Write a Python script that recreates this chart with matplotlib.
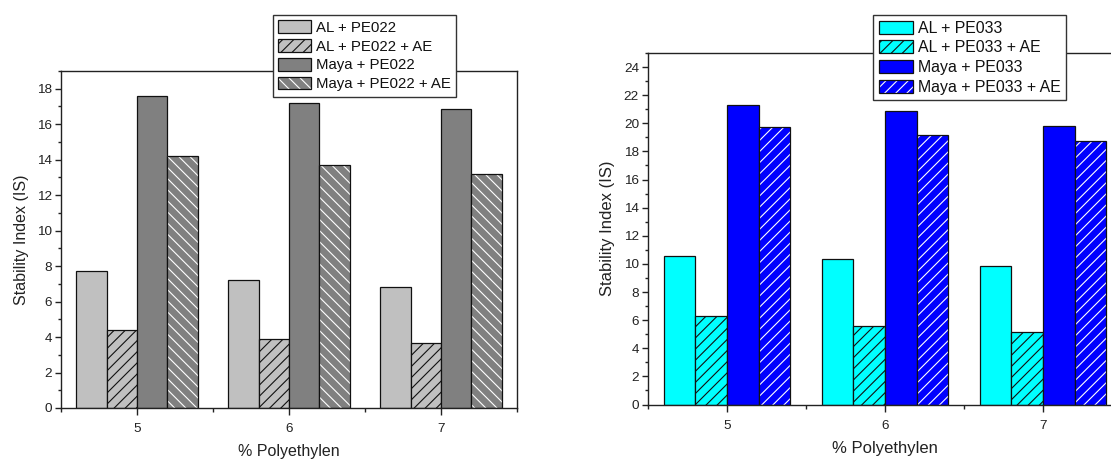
import numpy as np
import matplotlib
matplotlib.use("Agg")
import matplotlib.pyplot as plt
from matplotlib.patches import Patch
from matplotlib.ticker import MultipleLocator, FixedLocator
from matplotlib.legend_handler import HandlerTuple

plt.rcParams['font.family'] = ['Liberation Sans', 'DejaVu Sans']
plt.rcParams['hatch.linewidth'] = 0.8

# data
polyethylen = [5, 6, 7]

# left panel, PE022
al_pe022 = [7.72, 7.20, 6.82]
al_pe022_ae = [4.37, 3.87, 3.68]
maya_pe022 = [17.60, 17.18, 16.83]
maya_pe022_ae = [14.20, 13.68, 13.19]
labels_022 = ['AL + PE022', 'AL + PE022 + AE', 'Maya + PE022', 'Maya + PE022 + AE']

# right panel, PE033
al_pe033 = [10.58, 10.37, 9.84]
al_pe033_ae = [6.28, 5.59, 5.19]
maya_pe033 = [21.30, 20.90, 19.80]
maya_pe033_ae = [19.75, 19.18, 18.76]
labels_033 = ['AL + PE033', 'AL + PE033 + AE', 'Maya + PE033', 'Maya + PE033 + AE']

W, H = 1111, 459
fig = plt.figure(figsize=(W / 100, H / 100), dpi=100)

def px_axes(x0, x1, ytop, ybot):
    return fig.add_axes([x0 / W, 1 - ybot / H, (x1 - x0) / W, (ybot - ytop) / H])

ax1 = px_axes(61, 517, 71, 408)
ax2 = px_axes(648, 1122, 53, 404.5)

bw = 0.2
edge = '#111111'


def draw_panel(ax, series, styles, labels, ymax, lab_fs, tick_fs, xpad):
    x = np.array(polyethylen, dtype=float)
    handles = []
    for i, (vals, (fc, hatch, hcol)) in enumerate(zip(series, styles)):
        pos = x + (i - 1.5) * bw
        if hatch and hcol == 'white':
            ax.bar(pos, vals, bw, color=fc, edgecolor='white', hatch=hatch, linewidth=0)
            ax.bar(pos, vals, bw, fill=False, edgecolor=edge, linewidth=0.9)
            h = (Patch(facecolor=fc, edgecolor='white', hatch=hatch, linewidth=0),
                 Patch(fill=False, edgecolor=edge, linewidth=0.9))
        else:
            ax.bar(pos, vals, bw, color=fc, edgecolor=edge, hatch=hatch, linewidth=0.9)
            h = Patch(facecolor=fc, edgecolor=edge, hatch=hatch, linewidth=0.9)
        handles.append(h)

    ax.set_xlim(4.5, 7.5)
    ax.set_ylim(0, ymax)
    ax.set_xticks(polyethylen)
    ax.xaxis.set_minor_locator(FixedLocator([4.5, 5.5, 6.5, 7.5]))
    ax.yaxis.set_major_locator(MultipleLocator(2))
    ax.yaxis.set_minor_locator(MultipleLocator(1))
    ax.tick_params(axis='both', which='both', direction='out', colors='#222222',
                   labelsize=tick_fs, width=1)
    ax.tick_params(axis='y', which='major', length=4, pad=2.5)
    ax.tick_params(axis='y', which='minor', length=2.5)
    ax.tick_params(axis='x', which='major', length=5, pad=6)
    ax.tick_params(axis='x', which='minor', length=3)
    for s in ax.spines.values():
        s.set_color('#222222')
        s.set_linewidth(1)
    ax.set_xlabel('% Polyethylen', fontsize=lab_fs, color='#222222', labelpad=xpad)
    ax.set_ylabel('Stability Index (IS)', fontsize=lab_fs, color='#222222', labelpad=6)
    return handles


h1 = draw_panel(ax1,
                [al_pe022, al_pe022_ae, maya_pe022, maya_pe022_ae],
                [('#c0c0c0', None, None), ('#c0c0c0', '///', 'black'),
                 ('#808080', None, None), ('#808080', '\\\\\\', 'white')],
                labels_022, 19, 11.5, 9.7, 6)
h2 = draw_panel(ax2,
                [al_pe033, al_pe033_ae, maya_pe033, maya_pe033_ae],
                [('#00ffff', None, None), ('#00ffff', '///', 'black'),
                 ('#0000ff', None, None), ('#0000ff', '///', 'white')],
                labels_033, 25, 12, 9.7, 7)

leg_kw = dict(loc='upper left', borderaxespad=0, fancybox=False, framealpha=1,
              edgecolor='#333333', handlelength=2.2, handleheight=0.9,
              handletextpad=0.3, labelspacing=0.3, borderpad=0.35,
              handler_map={tuple: HandlerTuple(ndivide=1, pad=0)})
leg1 = fig.legend(h1, labels_022, bbox_to_anchor=(273 / W, 1 - 15 / H), fontsize=10.8, **leg_kw)
leg2 = fig.legend(h2, labels_033, bbox_to_anchor=(873 / W, 1 - 15 / H), fontsize=11.4, **leg_kw)
for leg in (leg1, leg2):
    leg.get_frame().set_linewidth(1)
    for t in leg.get_texts():
        t.set_color('#111111')

fig.savefig('out.png', dpi=100)
